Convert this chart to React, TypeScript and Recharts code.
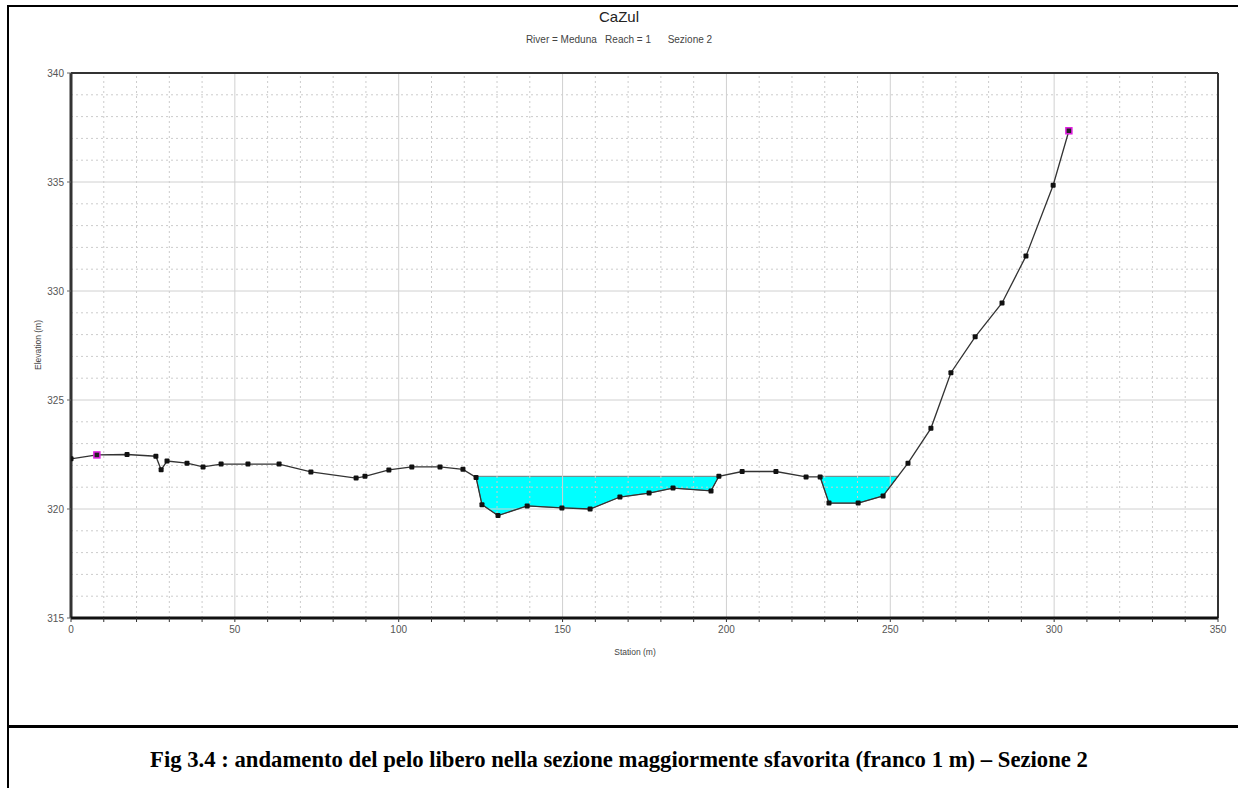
import React from 'react';
import { ComposedChart, Line, Area, XAxis, YAxis, ReferenceLine } from 'recharts';

const stations = [0, 7.9, 17.1, 25.9, 27.5, 29.3, 35.4, 40.3, 45.8, 54, 63.5, 73.2, 87, 89.7, 97, 104, 112.6, 119.6, 123.6, 125.4, 130.3, 139.2, 149.8, 158.4, 167.5, 176.4, 183.7, 195.3, 197.7, 204.8, 215.1, 224.3, 228.6, 231.3, 240.2, 247.8, 255.4, 262.4, 268.5, 275.9, 284.1, 291.4, 299.7, 304.5];
const elevations = [322.3, 322.48, 322.5, 322.42, 321.8, 322.2, 322.1, 321.93, 322.06, 322.06, 322.06, 321.7, 321.42, 321.5, 321.79, 321.93, 321.93, 321.82, 321.45, 320.2, 319.7, 320.14, 320.05, 320.0, 320.55, 320.73, 320.96, 320.83, 321.5, 321.72, 321.72, 321.47, 321.47, 320.27, 320.27, 320.6, 322.1, 323.7, 326.25, 327.9, 329.45, 331.6, 334.85, 337.35];
const bankStations = [7.9, 304.5];
const waterSurface = 321.5;
const pool1Stations = [123.6, 125.4, 130.3, 139.2, 149.8, 158.4, 167.5, 176.4, 183.7, 195.3, 197.7];
const pool1Ground = [321.45, 320.2, 319.7, 320.14, 320.05, 320.0, 320.55, 320.73, 320.96, 320.83, 321.5];
const pool2Stations = [228.6, 231.3, 240.2, 247.8, 252.4];
const pool2Ground = [321.47, 320.27, 320.27, 320.6, 321.5];

const xTicks = [0, 10, 20, 30, 40, 50, 60, 70, 80, 90, 100, 110, 120, 130, 140, 150, 160, 170, 180, 190, 200, 210, 220, 230, 240, 250, 260, 270, 280, 290, 300, 310, 320, 330, 340, 350];
const xLabelTicks = [0, 50, 100, 150, 200, 250, 300, 350];
const yTicks = [315, 320, 325, 330, 335, 340];
const yMinor = [316, 317, 318, 319, 321, 322, 323, 324, 326, 327, 328, 329, 331, 332, 333, 334, 336, 337, 338, 339];

const groundData = stations.map((s, i) => ({ x: s, elev: elevations[i], bank: bankStations.includes(s) }));
const pool1 = pool1Stations.map((s, i) => ({ x: s, range: [pool1Ground[i], waterSurface] }));
const pool2 = pool2Stations.map((s, i) => ({ x: s, range: [pool2Ground[i], waterSurface] }));

const GroundDot = (props: any) => {
  const { cx, cy, payload } = props;
  if (cx == null || cy == null) return null;
  if (payload.bank) {
    return <rect x={cx - 3} y={cy - 3} width={6} height={6} fill="#222" stroke="#e020e0" strokeWidth={1.5} />;
  }
  return <rect x={cx - 2.5} y={cy - 2.5} width={5} height={5} rx={1} fill="#111" />;
};

const XTick = (props: any) => {
  const { x, y, payload } = props;
  if (!xLabelTicks.includes(payload.value)) return null;
  return (
    <text x={x} y={y + 9} textAnchor="middle" fontSize={10} fill="#555" fontFamily="Liberation Sans, Arial, sans-serif">
      {payload.value}
    </text>
  );
};

const YTick = (props: any) => {
  const { x, y, payload } = props;
  return (
    <text x={x - 1} y={y + 4} textAnchor="end" fontSize={10} fill="#555" fontFamily="Liberation Sans, Arial, sans-serif">
      {payload.value}
    </text>
  );
};

export default function App() {
  const sans = 'Liberation Sans, Arial, sans-serif';
  return (
    <div style={{ position: 'absolute', left: 0, top: 0, width: 1238, height: 788, background: '#fff', overflow: 'hidden' }}>
      <div style={{ position: 'absolute', left: 7, top: 5, width: 1231, height: 2, background: '#000' }} />
      <div style={{ position: 'absolute', left: 7, top: 5, width: 2, height: 783, background: '#000' }} />
      <div style={{ position: 'absolute', left: 7, top: 725, width: 1231, height: 3, background: '#000' }} />
      <div style={{ position: 'absolute', left: 0, width: 1238, top: 8, textAlign: 'center', fontFamily: sans, fontSize: 15, color: '#222' }}>CaZul</div>
      <div style={{ position: 'absolute', left: 0, width: 1238, top: 34, textAlign: 'center', fontFamily: sans, fontSize: 10, color: '#444', whiteSpace: 'pre' }}>
        {'River = Meduna   Reach = 1      Sezione 2'}
      </div>
      <div style={{ position: 'absolute', left: 38, top: 345, transform: 'translate(-50%, -50%) rotate(-90deg)', fontFamily: sans, fontSize: 8.5, color: '#444', whiteSpace: 'nowrap' }}>Elevation (m)</div>
      <div style={{ position: 'absolute', left: 635, top: 652, transform: 'translate(-50%, -50%)', fontFamily: sans, fontSize: 8.5, color: '#444', whiteSpace: 'nowrap' }}>Station (m)</div>
      <div style={{ position: 'absolute', left: 0, width: 1238, top: 746, textAlign: 'center', fontFamily: 'Liberation Serif, Times New Roman, serif', fontWeight: 'bold', fontSize: 22.7, lineHeight: '28px', color: '#000', whiteSpace: 'nowrap' }}>
        Fig 3.4 : andamento del pelo libero nella sezione maggiormente sfavorita (franco 1 m) – Sezione 2
      </div>
      <div style={{ position: 'absolute', left: 0, top: 0, width: 1238, height: 700 }}>
        <ComposedChart width={1238} height={700} margin={{ top: 73, right: 20, bottom: 52, left: 41 }}>
          <XAxis
            dataKey="x"
            type="number"
            domain={[0, 350]}
            ticks={xTicks}
            interval={0}
            allowDataOverflow
            height={30}
            tick={<XTick />}
            tickSize={4}
            tickLine={{ stroke: '#333' }}
            axisLine={false}
          />
          <YAxis
            type="number"
            domain={[315, 340]}
            ticks={yTicks}
            interval={0}
            allowDataOverflow
            width={30}
            tick={<YTick />}
            tickSize={4}
            tickLine={{ stroke: '#666' }}
            axisLine={false}
          />
          {xTicks.filter((v) => v % 50 !== 0).map((v) => (
            <ReferenceLine key={'vx' + v} x={v} stroke="#cccccc" strokeDasharray="2 3" strokeWidth={1} />
          ))}
          {yMinor.map((v) => (
            <ReferenceLine key={'hy' + v} y={v} stroke="#cccccc" strokeDasharray="2 3" strokeWidth={1} />
          ))}
          {xLabelTicks.filter((v) => v > 0 && v < 350).map((v) => (
            <ReferenceLine key={'vs' + v} x={v} stroke="#d0d0d0" strokeWidth={1} />
          ))}
          {yTicks.filter((v) => v > 315 && v < 340).map((v) => (
            <ReferenceLine key={'hs' + v} y={v} stroke="#d0d0d0" strokeWidth={1} />
          ))}
          <Area data={pool1} dataKey="range" type="linear" fill="#00ffff" fillOpacity={1} stroke="#777" strokeWidth={1} isAnimationActive={false} dot={false} activeDot={false} />
          <Area data={pool2} dataKey="range" type="linear" fill="#00ffff" fillOpacity={1} stroke="#777" strokeWidth={1} isAnimationActive={false} dot={false} activeDot={false} />
          <Line data={groundData} dataKey="elev" type="linear" stroke="#333" strokeWidth={1.3} dot={<GroundDot />} activeDot={false} isAnimationActive={false} />
          <ReferenceLine y={340} stroke="#333" strokeWidth={2} />
          <ReferenceLine x={350} stroke="#333" strokeWidth={2} />
          <ReferenceLine x={0} stroke="#333" strokeWidth={3} />
          <ReferenceLine y={315} stroke="#111" strokeWidth={3} />
        </ComposedChart>
      </div>
    </div>
  );
}
